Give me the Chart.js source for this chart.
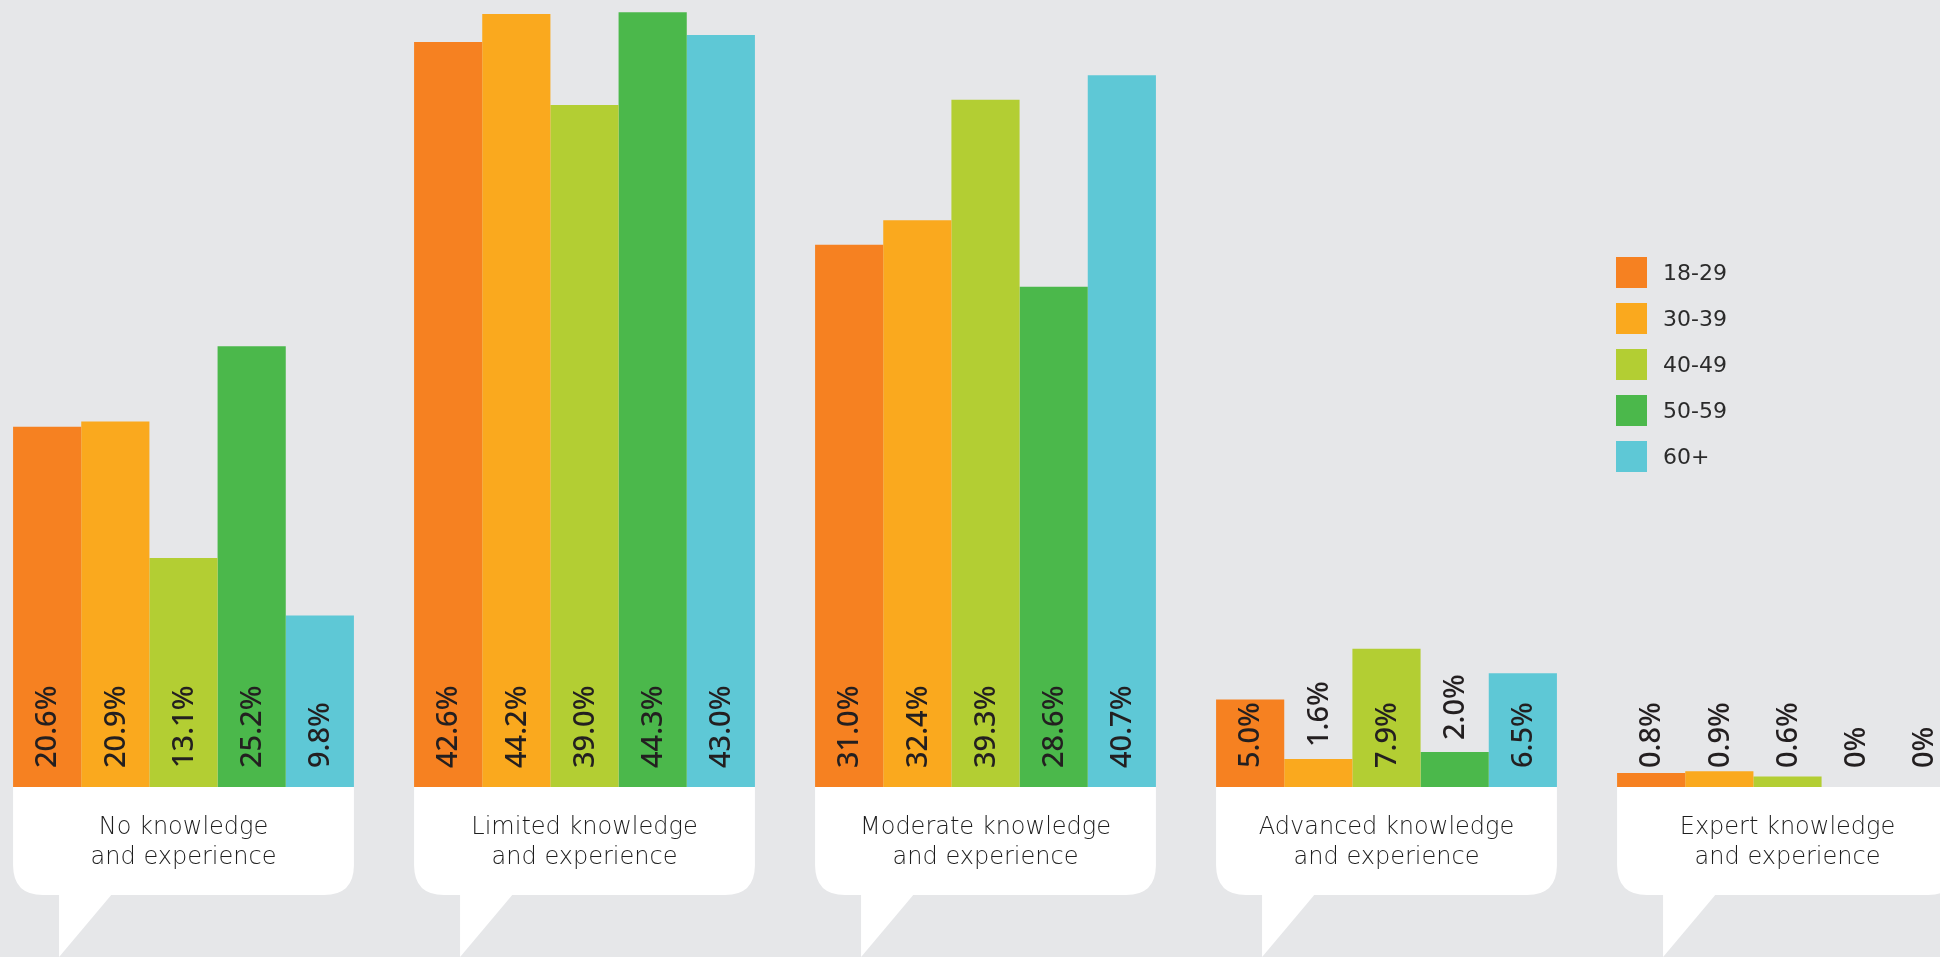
<!DOCTYPE html>
<html>
<head>
<meta charset="utf-8">
<script src="https://cdn.jsdelivr.net/npm/chart.js@4"></script>
<style>
  html, body { margin: 0; padding: 0; background: #e6e7e9; overflow: hidden; }
  body { width: 1940px; height: 957px; position: relative; }
  #knowledge { position: absolute; left: -17px; top: 0; }
  #legend { position: absolute; left: 1616px; top: 257px; font: 22px "DejaVu Sans", sans-serif; color: #2b2b2b; }
  #legend div { display: flex; align-items: center; height: 31px; margin-bottom: 15px; }
  #legend span.box { width: 31px; height: 31px; margin-right: 16px; }
</style>
</head>
<body>
<canvas id="knowledge" width="2005" height="957"></canvas>
<div id="legend"></div>
<script>
const levels = [
  ["No knowledge", "and experience"],
  ["Limited knowledge", "and experience"],
  ["Moderate knowledge", "and experience"],
  ["Advanced knowledge", "and experience"],
  ["Expert knowledge", "and experience"]
];
const ageGroups = ["18-29", "30-39", "40-49", "50-59", "60+"];
const colors = ["#f68121", "#faa91e", "#b3ce33", "#4bb84b", "#5ec8d6"];

const age18 = [20.6, 42.6, 31.0, 5.0, 0.8];
const age30 = [20.9, 44.2, 32.4, 1.6, 0.9];
const age40 = [13.1, 39.0, 39.3, 7.9, 0.6];
const age50 = [25.2, 44.3, 28.6, 2.0, 0];
const age60 = [9.8, 43.0, 40.7, 6.5, 0];
const series = [age18, age30, age40, age50, age60];

// speech-bubble panels under each group, with the category name inside
const bubbles = {
  id: "bubbles",
  beforeDatasetsDraw(chart) {
    const ctx = chart.ctx;
    const base = chart.scales.y.getPixelForValue(0);
    const first = chart.getDatasetMeta(0).data;
    const last = chart.getDatasetMeta(series.length - 1).data;
    const h = 108, r = 30;
    ctx.save();
    ctx.fillStyle = "#ffffff";
    levels.forEach((lines, i) => {
      const left = first[i].x - first[i].width / 2;
      const right = last[i].x + last[i].width / 2;
      const bottom = base + h;
      ctx.beginPath();
      ctx.moveTo(left, base);
      ctx.lineTo(right, base);
      ctx.lineTo(right, bottom - r);
      ctx.quadraticCurveTo(right, bottom, right - r, bottom);
      ctx.lineTo(left + r, bottom);
      ctx.quadraticCurveTo(left, bottom, left, bottom - r);
      ctx.closePath();
      ctx.fill();
      // tail
      ctx.beginPath();
      ctx.moveTo(left + 46, bottom - 1);
      ctx.lineTo(left + 99, bottom - 1);
      ctx.lineTo(left + 46, bottom + 62);
      ctx.closePath();
      ctx.fill();
    });
    ctx.fillStyle = "#1e1e1e";
    ctx.font = "200 24px 'DejaVu Sans'";
    ctx.textAlign = "center";
    ctx.textBaseline = "alphabetic";
    levels.forEach((lines, i) => {
      const cx = chart.scales.x.getPixelForValue(i);
      ctx.fillText(lines[0], cx, base + 47);
      ctx.fillText(lines[1], cx, base + 77);
    });
    ctx.restore();
  }
};

// rotated percentage labels
const valueLabels = {
  id: "valueLabels",
  afterDatasetsDraw(chart) {
    const ctx = chart.ctx;
    const base = chart.scales.y.getPixelForValue(0);
    ctx.save();
    ctx.fillStyle = "#231f20";
    ctx.font = "500 29px 'Noto Sans'";
    ctx.textAlign = "left";
    ctx.textBaseline = "middle";
    series.forEach((vals, d) => {
      chart.getDatasetMeta(d).data.forEach((bar, i) => {
        const v = vals[i];
        const text = v === 0 ? "0%" : v.toFixed(1) + "%";
        const barH = base - bar.y;
        let y = base - 19;
        // short bars that can't hold the label push it above their top
        if (v < 4 && barH > 25) y = Math.min(y, bar.y - 12);
        ctx.save();
        ctx.translate(bar.x, y);
        ctx.rotate(-Math.PI / 2);
        ctx.fillText(text, 0, 1);
        ctx.restore();
      });
    });
    ctx.restore();
  }
};

new Chart(document.getElementById("knowledge"), {
  type: "bar",
  data: {
    labels: levels.map(l => l.join(" ")),
    datasets: series.map((vals, d) => ({
      label: ageGroups[d],
      data: vals,
      backgroundColor: colors[d],
      borderWidth: 0,
      barPercentage: 1,
      categoryPercentage: 0.85
    }))
  },
  options: {
    responsive: false,
    animation: false,
    layout: { padding: { top: 0, left: 0, right: 0, bottom: 170 } },
    scales: {
      x: { display: false },
      y: { display: false, min: 0, max: 45 }
    },
    plugins: { legend: { display: false }, tooltip: { enabled: false } }
  },
  plugins: [bubbles, valueLabels]
});

const legend = document.getElementById("legend");
ageGroups.forEach((g, i) => {
  const row = document.createElement("div");
  const box = document.createElement("span");
  box.className = "box";
  box.style.background = colors[i];
  row.appendChild(box);
  row.appendChild(document.createTextNode(g));
  legend.appendChild(row);
});
</script>
</body>
</html>
